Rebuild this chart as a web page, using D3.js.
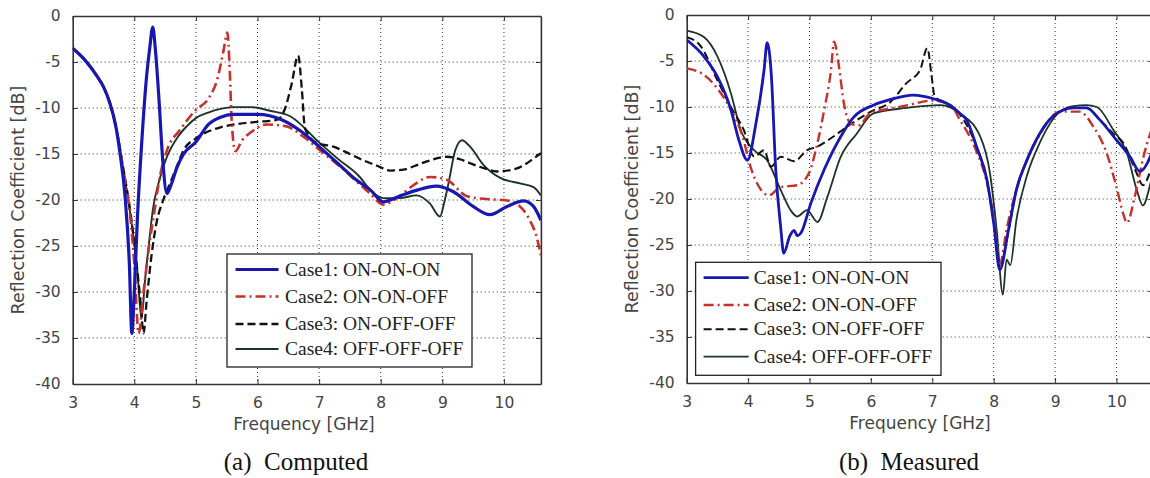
<!DOCTYPE html>
<html><head><meta charset="utf-8">
<script src="https://cdn.jsdelivr.net/npm/d3@7"></script>
<style>
html,body{margin:0;padding:0;background:#fff;}
svg{display:block;}
</style></head>
<body>
<svg id="chart" width="1150" height="478"></svg>
<script>
// ---------- DATA ----------
const xTicks = [3,4,5,6,7,8,9,10];
const yTicks = [0,-5,-10,-15,-20,-25,-30,-35,-40];
const seriesNames = ["Case1: ON-ON-ON","Case2: ON-ON-OFF","Case3: ON-OFF-OFF","Case4: OFF-OFF-OFF"];
const captions = ["(a)  Computed","(b)  Measured"];

// Computed
const compFreq1 = [3.0,3.2,3.4,3.5,3.6,3.7,3.77,3.85,3.92,3.96,4.0,4.05,4.12,4.2,4.25,4.3,4.34,4.4,4.46,4.53,4.6,4.69,4.8,5.0,5.2,5.4,5.6,6.0,6.4,6.7,7.0,7.3,7.6,7.83,8.04,8.3,8.6,8.9,9.18,9.5,9.77,10.05,10.32,10.48,10.6];
const compCase1 = [-3.5,-4.8,-6.6,-7.7,-9.4,-12.0,-15.0,-19.6,-27,-34.5,-30,-22,-13.8,-6.5,-3.5,-1.2,-3.5,-9,-15.5,-19.3,-18.3,-16.5,-15.0,-13.7,-11.8,-11.0,-10.7,-10.7,-11.3,-12.5,-14.2,-16.0,-17.8,-18.9,-20.2,-19.6,-18.9,-18.5,-19.1,-20.7,-21.6,-20.7,-20.1,-20.7,-22.2];
const compFreq2 = [3.0,3.2,3.4,3.5,3.6,3.7,3.82,3.93,4.0,4.07,4.15,4.25,4.31,4.4,4.53,4.74,5.0,5.2,5.35,5.45,5.51,5.55,5.58,5.64,5.75,5.88,6.15,6.47,6.74,7.07,7.4,7.66,7.83,8.04,8.3,8.53,8.8,9.07,9.4,9.72,10.0,10.2,10.42,10.53,10.6];
const compCase2 = [-3.5,-4.8,-6.6,-7.7,-9.4,-12.0,-16.7,-21.5,-27,-34.5,-30,-24.5,-22,-18,-14.6,-12.4,-10.2,-9.0,-6.8,-3.7,-1.8,-6,-11.3,-14.7,-13.5,-12.7,-11.8,-12.0,-13.1,-14.9,-16.7,-18.3,-19.3,-20.5,-19.6,-18.4,-17.5,-17.8,-19.6,-19.9,-20.0,-20.4,-22.2,-24.0,-26.0];
const compFreq3 = [3.0,3.2,3.4,3.5,3.6,3.7,3.82,3.93,4.03,4.1,4.15,4.2,4.28,4.36,4.47,4.58,4.7,4.8,5.0,5.12,5.4,5.72,6.0,6.31,6.45,6.55,6.66,6.72,6.77,6.96,7.23,7.5,7.72,7.95,8.15,8.37,8.55,8.75,9.07,9.3,9.45,9.7,9.88,10.2,10.48,10.6];
const compCase3 = [-3.5,-4.8,-6.6,-7.7,-9.4,-12.0,-16.5,-21.0,-26.5,-31,-34.5,-31,-26,-22.5,-20,-18.2,-16.2,-14.6,-13.3,-12.8,-12.1,-11.7,-11.5,-11.3,-10,-7.5,-4.3,-8,-12.2,-13.8,-14.2,-15,-15.7,-16.3,-16.8,-16.7,-16.3,-15.8,-15.3,-15.6,-16.0,-16.6,-16.9,-16.6,-15.5,-14.9];
const compFreq4 = [3.0,3.2,3.4,3.5,3.6,3.7,3.82,3.93,4.04,4.12,4.17,4.25,4.3,4.4,4.53,4.7,4.85,5.0,5.2,5.4,5.6,5.9,6.2,6.53,7.01,7.3,7.66,7.83,8.04,8.31,8.58,8.8,8.96,9.04,9.1,9.21,9.32,9.45,9.67,9.94,10.26,10.48,10.6];
const compCase4 = [-3.5,-4.8,-6.6,-7.7,-9.4,-12.0,-16.7,-21.3,-27,-32.8,-29,-24,-21.1,-18,-15.3,-13.2,-12,-11.1,-10.5,-10.1,-9.9,-9.9,-10.3,-10.9,-13.8,-15.5,-17.5,-18.9,-19.8,-19.8,-19.5,-20.4,-21.8,-20,-18.2,-14.6,-13.5,-14.2,-16.2,-17.6,-18.2,-18.6,-19.5];

// Measured
const measFreq1 = [3.0,3.28,3.5,3.72,3.85,3.99,4.12,4.26,4.31,4.38,4.45,4.53,4.58,4.68,4.75,4.8,4.86,5.02,5.24,5.51,5.72,6.04,6.31,6.69,7.02,7.29,7.45,7.56,7.72,7.89,8.0,8.1,8.24,8.37,8.54,8.75,8.97,9.3,9.51,9.73,10.0,10.22,10.38,10.55,10.6];
const measCase1 = [-2.7,-4.5,-6.7,-10.3,-13.6,-15.8,-12.1,-6.0,-3.0,-6.7,-16.8,-23,-25.9,-24,-23.4,-24,-23.7,-20.5,-16.8,-13.2,-11.1,-9.8,-9.2,-8.7,-9.1,-9.8,-10.7,-11.4,-14.3,-17.9,-22.6,-27.7,-23.4,-19,-15.8,-12.9,-11.0,-10.1,-10.1,-11.4,-13.6,-15.4,-17.0,-15.4,-14.5];
const measFreq2 = [3.0,3.28,3.5,3.72,3.91,4.04,4.21,4.34,4.53,4.8,4.99,5.13,5.24,5.35,5.4,5.48,5.56,5.67,5.8,6.0,6.3,6.6,7.0,7.3,7.45,7.7,7.9,8.0,8.1,8.22,8.37,8.54,8.75,9.08,9.4,9.62,9.84,10.0,10.11,10.17,10.3,10.44,10.55,10.6];
const measCase2 = [-5.8,-6.5,-8.0,-10.3,-13.2,-16.5,-19.0,-19.6,-18.7,-18.5,-17.2,-13.9,-10.3,-6.0,-2.9,-5.6,-9.6,-11.8,-12.0,-10.6,-10.2,-9.8,-9.3,-9.8,-11.4,-14.5,-18.5,-22,-27,-23,-19,-15.8,-13,-10.5,-10.5,-12.1,-15.0,-18.7,-21.6,-22.6,-19.7,-15.4,-12.9,-12];
const measFreq3 = [3.0,3.23,3.5,3.72,3.93,4.1,4.26,4.37,4.53,4.75,4.96,5.13,5.35,5.62,6.0,6.31,6.58,6.8,6.92,6.99,7.04,7.2,7.45,7.72,7.89,8.0,8.1,8.24,8.37,8.54,8.75,8.97,9.3,9.51,9.73,9.95,10.11,10.33,10.43,10.55,10.6];
const measCase3 = [-2.4,-3.4,-7.1,-10,-12.5,-15.4,-14.7,-16.5,-15.4,-15.9,-14.7,-14.3,-13.4,-12.1,-10.5,-9.5,-7.4,-6.0,-3.6,-6.7,-8.9,-9.5,-10.8,-14.3,-18,-22.5,-27.5,-23.5,-19,-15.8,-12.9,-11.0,-10.1,-10.1,-11.4,-12.9,-13.9,-17.2,-18.5,-17,-16];
const measFreq4 = [3.0,3.28,3.5,3.72,3.88,4.1,4.31,4.53,4.69,4.8,4.96,5.13,5.29,5.51,5.77,6.04,6.58,7.13,7.45,7.78,7.94,8.05,8.15,8.21,8.27,8.37,8.54,8.75,9.08,9.3,9.51,9.68,9.95,10.17,10.33,10.43,10.55,10.6];
const measCase4 = [-1.7,-2.4,-4.5,-8.5,-12.5,-14.7,-15.8,-19.0,-21.2,-21.9,-21.2,-22.5,-19.8,-15.4,-12.9,-10.7,-10.1,-9.8,-10.7,-13.2,-17.2,-23.4,-30.4,-26.6,-27.2,-22.3,-17.5,-13.9,-10.5,-9.9,-9.8,-10.0,-12.5,-15.0,-19.0,-20.7,-18.4,-17];

// ---------- DRAW ----------
const svg = d3.select("#chart");
const zip = (fs, vs) => fs.map((f,i)=>({f, v: vs[i]}));

const panels = [
  { id:"a", x0:72.7, x1:540.9, y0:16, y1:384,
    series:[zip(compFreq1,compCase1),zip(compFreq2,compCase2),zip(compFreq3,compCase3),zip(compFreq4,compCase4)],
    widths:[3.2,2.6,2.3,1.9],
    yTitleX:24, xTitle:[304,430], caption:[296,470],
    legend:{x:227,y:254,w:245,h:113,rows:[269.5,296.5,324,349], lx0:235.5, lx1:278.5, tx:285}
  },
  { id:"b", x0:686.7, x1:1153.3, y0:15, y1:383,
    series:[zip(measFreq1,measCase1),zip(measFreq2,measCase2),zip(measFreq3,measCase3),zip(measFreq4,measCase4)],
    widths:[2.8,2.4,2.0,1.8],
    yTitleX:638, xTitle:[920,429], caption:[909,470],
    legend:{x:695.6,y:262.3,w:245.4,h:113,rows:[277.7,305,329.3,356.7], lx0:703.6, lx1:748.7, tx:753.8}
  }
];
const colors = ["#1818b0","#c8302a","#111111","#1c3426"];
const dashes = [null,"10,4,2,4","8,4",null];

panels.forEach((p, pi) => {
  const x = d3.scaleLinear().domain([3,10.6]).range([p.x0,p.x1]);
  const y = d3.scaleLinear().domain([-40,0]).range([p.y1,p.y0]);
  const g = svg.append("g");

  // grid
  g.append("g").selectAll("line").data(xTicks.filter(t=>t>3)).join("line")
    .attr("x1",d=>x(d)).attr("x2",d=>x(d)).attr("y1",p.y0).attr("y2",p.y1)
    .attr("stroke","#333").attr("stroke-width",1).attr("stroke-dasharray","1,3");
  g.append("g").selectAll("line").data(yTicks.filter(t=>t>-40 && t<0)).join("line")
    .attr("x1",p.x0).attr("x2",p.x1).attr("y1",d=>y(d)).attr("y2",d=>y(d))
    .attr("stroke","#333").attr("stroke-width",1).attr("stroke-dasharray","1,3");

  // axes (ticks inward)
  const fmt = d => String(d);
  const ax = d3.axisBottom(x).tickValues(xTicks).tickSizeInner(-5).tickSizeOuter(0).tickPadding(13).tickFormat(fmt);
  const ay = d3.axisLeft(y).tickValues(yTicks).tickSizeInner(-5).tickSizeOuter(0).tickPadding(12).tickFormat(fmt);
  const gx = g.append("g").attr("transform",`translate(0,${p.y1})`).call(ax);
  const gy = g.append("g").attr("transform",`translate(${p.x0},0)`).call(ay);
  const gxTop = g.append("g").attr("transform",`translate(0,${p.y0})`).call(d3.axisTop(x).tickValues(xTicks).tickSizeInner(-5).tickSizeOuter(0).tickFormat(""));
  const gyR = g.append("g").attr("transform",`translate(${p.x1},0)`).call(d3.axisRight(y).tickValues(yTicks).tickSizeInner(-5).tickSizeOuter(0).tickFormat(""));
  [gx,gy,gxTop,gyR].forEach(a=>{
    a.select(".domain").attr("stroke","#333").attr("stroke-width",1.6);
    a.selectAll(".tick line").attr("stroke","#333");
    a.selectAll("text").attr("font-family","DejaVu Sans, sans-serif").attr("font-size",15.5).attr("fill","#444");
  });

  // curves
  const clipId = "clip"+p.id;
  svg.append("defs").append("clipPath").attr("id",clipId)
    .append("rect").attr("x",p.x0).attr("y",p.y0).attr("width",p.x1-p.x0).attr("height",p.y1-p.y0);
  const line = d3.line().x(d=>x(d.f)).y(d=>y(d.v)).curve(d3.curveMonotoneX);
  const cg = g.append("g").attr("clip-path",`url(#${clipId})`);
  [3,2,1,0].forEach(i=>{
    cg.append("path").datum(p.series[i]).attr("d",line)
      .attr("fill","none").attr("stroke",colors[i]).attr("stroke-width",p.widths[i])
      .attr("stroke-linejoin","round")
      .attr("stroke-dasharray",dashes[i]);
  });

  // titles
  g.append("text").attr("transform",`translate(${p.yTitleX},${(p.y0+p.y1)/2}) rotate(-90)`)
    .attr("text-anchor","middle").attr("font-family","DejaVu Sans, sans-serif").attr("font-size",17.5)
    .attr("fill","#444").text("Reflection Coefficient [dB]");
  g.append("text").attr("x",p.xTitle[0]).attr("y",p.xTitle[1])
    .attr("text-anchor","middle").attr("font-family","DejaVu Sans, sans-serif").attr("font-size",17)
    .attr("fill","#444").text("Frequency [GHz]");
  g.append("text").attr("x",p.caption[0]).attr("y",p.caption[1])
    .attr("text-anchor","middle").attr("font-family","Liberation Serif, serif").attr("font-size",25)
    .attr("fill","#111").style("white-space","pre").text(captions[pi]);

  // legend
  const L = p.legend;
  const lg = g.append("g");
  lg.append("rect").attr("x",L.x).attr("y",L.y).attr("width",L.w).attr("height",L.h)
    .attr("fill","#fff").attr("stroke","#222").attr("stroke-width",1.3);
  seriesNames.forEach((name,i)=>{
    lg.append("line").attr("x1",L.lx0).attr("x2",L.lx1).attr("y1",L.rows[i]).attr("y2",L.rows[i])
      .attr("stroke",colors[i]).attr("stroke-width",p.widths[i]).attr("stroke-dasharray",dashes[i]);
    lg.append("text").attr("x",L.tx).attr("y",L.rows[i]+6)
      .attr("font-family","Liberation Serif, serif").attr("font-size",19.5).attr("fill","#222").text(name);
  });
});
</script>
</body></html>
